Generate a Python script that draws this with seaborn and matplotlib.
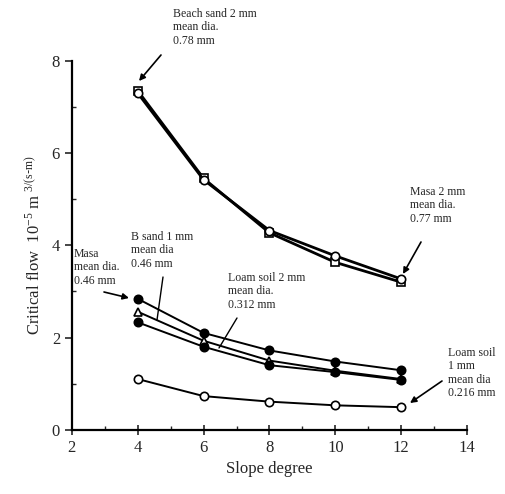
import numpy as np
import pandas as pd
import matplotlib
matplotlib.use("Agg")
import matplotlib.pyplot as plt
import seaborn as sns
from matplotlib.ticker import MultipleLocator

sns.set_theme(style="ticks")
plt.rcParams['font.family'] = ['Liberation Serif', 'DejaVu Serif']
plt.rcParams['mathtext.default'] = 'regular'

# slope (degree) and critical flow values
slope = [4, 6, 8, 10, 12]
beach_sand_2mm = [7.35, 5.45, 4.27, 3.63, 3.20]
masa_2mm = [7.30, 5.42, 4.32, 3.77, 3.27]
masa_046 = [2.84, 2.10, 1.72, 1.48, 1.29]
b_sand_1mm = [2.56, 1.93, 1.50, 1.28, 1.10]
loam_2mm = [2.33, 1.80, 1.40, 1.25, 1.08]
loam_1mm = [1.10, 0.73, 0.61, 0.53, 0.49]

series = {
    'Beach sand 2 mm': (beach_sand_2mm, 's', 'white'),
    'Masa 2 mm': (masa_2mm, 'o', 'white'),
    'Masa 0.46': (masa_046, 'o', 'black'),
    'B sand 1 mm': (b_sand_1mm, '^', 'white'),
    'Loam soil 2 mm': (loam_2mm, 'o', 'black'),
    'Loam soil 1 mm': (loam_1mm, 'o', 'white'),
}

fig = plt.figure(figsize=(5.06, 4.94), dpi=100)
ax = fig.add_axes([0.142, 0.130, 0.781, 0.747])

for name, (vals, mk, fc) in series.items():
    df = pd.DataFrame({'slope': slope, 'flow': vals})
    lw = 2.0 if name in ('Beach sand 2 mm', 'Masa 2 mm') else 1.4
    sns.lineplot(data=df, x='slope', y='flow', ax=ax, color='black', lw=lw,
                 marker=mk, markersize=6, markerfacecolor=fc,
                 markeredgecolor='black', markeredgewidth=1.2)

ax.set_xlim(2, 14)
ax.set_ylim(0, 8)
ax.xaxis.set_major_locator(MultipleLocator(2))
ax.xaxis.set_minor_locator(MultipleLocator(1))
ax.yaxis.set_major_locator(MultipleLocator(2))
ax.yaxis.set_minor_locator(MultipleLocator(1))
ax.tick_params(axis='x', which='major', direction='inout', length=7, width=1.2, labelsize=12)
ax.tick_params(axis='x', which='minor', direction='in', length=3, width=1)
ax.tick_params(axis='y', which='major', direction='out', length=5, width=1.2, labelsize=12)
ax.tick_params(axis='y', which='minor', direction='in', length=3, width=1)
for s in ['top', 'right']:
    ax.spines[s].set_visible(False)
for s in ['left', 'bottom']:
    ax.spines[s].set_linewidth(1.6)
    ax.spines[s].set_color('black')

ax.set_xlabel('Slope degree', fontsize=12)
ax.set_ylabel(r'Critical flow  10$^{-5}$ m $^{3/(s\text{-}m)}$', fontsize=12, labelpad=6)

fs = 8.5
arrow = dict(arrowstyle='-|>', color='black', lw=1.2, mutation_scale=9, shrinkA=0, shrinkB=0)
plain = dict(arrowstyle='-', color='black', lw=1.0, shrinkA=0, shrinkB=0)

def px(x, y):
    # figure pixel coords -> figure fraction
    return (x / 506, 1 - y / 494)

ax.annotate('Beach sand 2 mm\nmean dia.\n0.78 mm', xy=px(173, 8), xycoords='figure fraction',
            va='top', ha='left', fontsize=fs, linespacing=1.15)
ax.annotate('', xy=px(139, 81), xycoords='figure fraction', xytext=px(161, 55),
            textcoords='figure fraction', arrowprops=arrow)

ax.annotate('Masa 2 mm\nmean dia.\n0.77 mm', xy=px(410, 186), xycoords='figure fraction',
            va='top', ha='left', fontsize=fs, linespacing=1.15)
ax.annotate('', xy=px(403, 274), xycoords='figure fraction', xytext=px(421, 242),
            textcoords='figure fraction', arrowprops=arrow)

ax.annotate('Masa\nmean dia.\n0.46 mm', xy=px(74, 248), xycoords='figure fraction',
            va='top', ha='left', fontsize=fs, linespacing=1.15)
ax.annotate('', xy=px(129, 298), xycoords='figure fraction', xytext=px(104, 292),
            textcoords='figure fraction', arrowprops=arrow)

ax.annotate('B sand 1 mm\nmean dia\n0.46 mm', xy=px(131, 231), xycoords='figure fraction',
            va='top', ha='left', fontsize=fs, linespacing=1.15)
ax.annotate('', xy=px(157, 320), xycoords='figure fraction', xytext=px(163, 277),
            textcoords='figure fraction', arrowprops=plain)

ax.annotate('Loam soil 2 mm\nmean dia.\n0.312 mm', xy=px(228, 272), xycoords='figure fraction',
            va='top', ha='left', fontsize=fs, linespacing=1.15)
ax.annotate('', xy=px(219, 348), xycoords='figure fraction', xytext=px(237, 318),
            textcoords='figure fraction', arrowprops=plain)

ax.annotate('Loam soil\n1 mm\nmean dia\n0.216 mm', xy=px(448, 347), xycoords='figure fraction',
            va='top', ha='left', fontsize=fs, linespacing=1.15)
ax.annotate('', xy=px(410, 403), xycoords='figure fraction', xytext=px(442, 381),
            textcoords='figure fraction', arrowprops=arrow)

fig.savefig('out.png', dpi=100)
